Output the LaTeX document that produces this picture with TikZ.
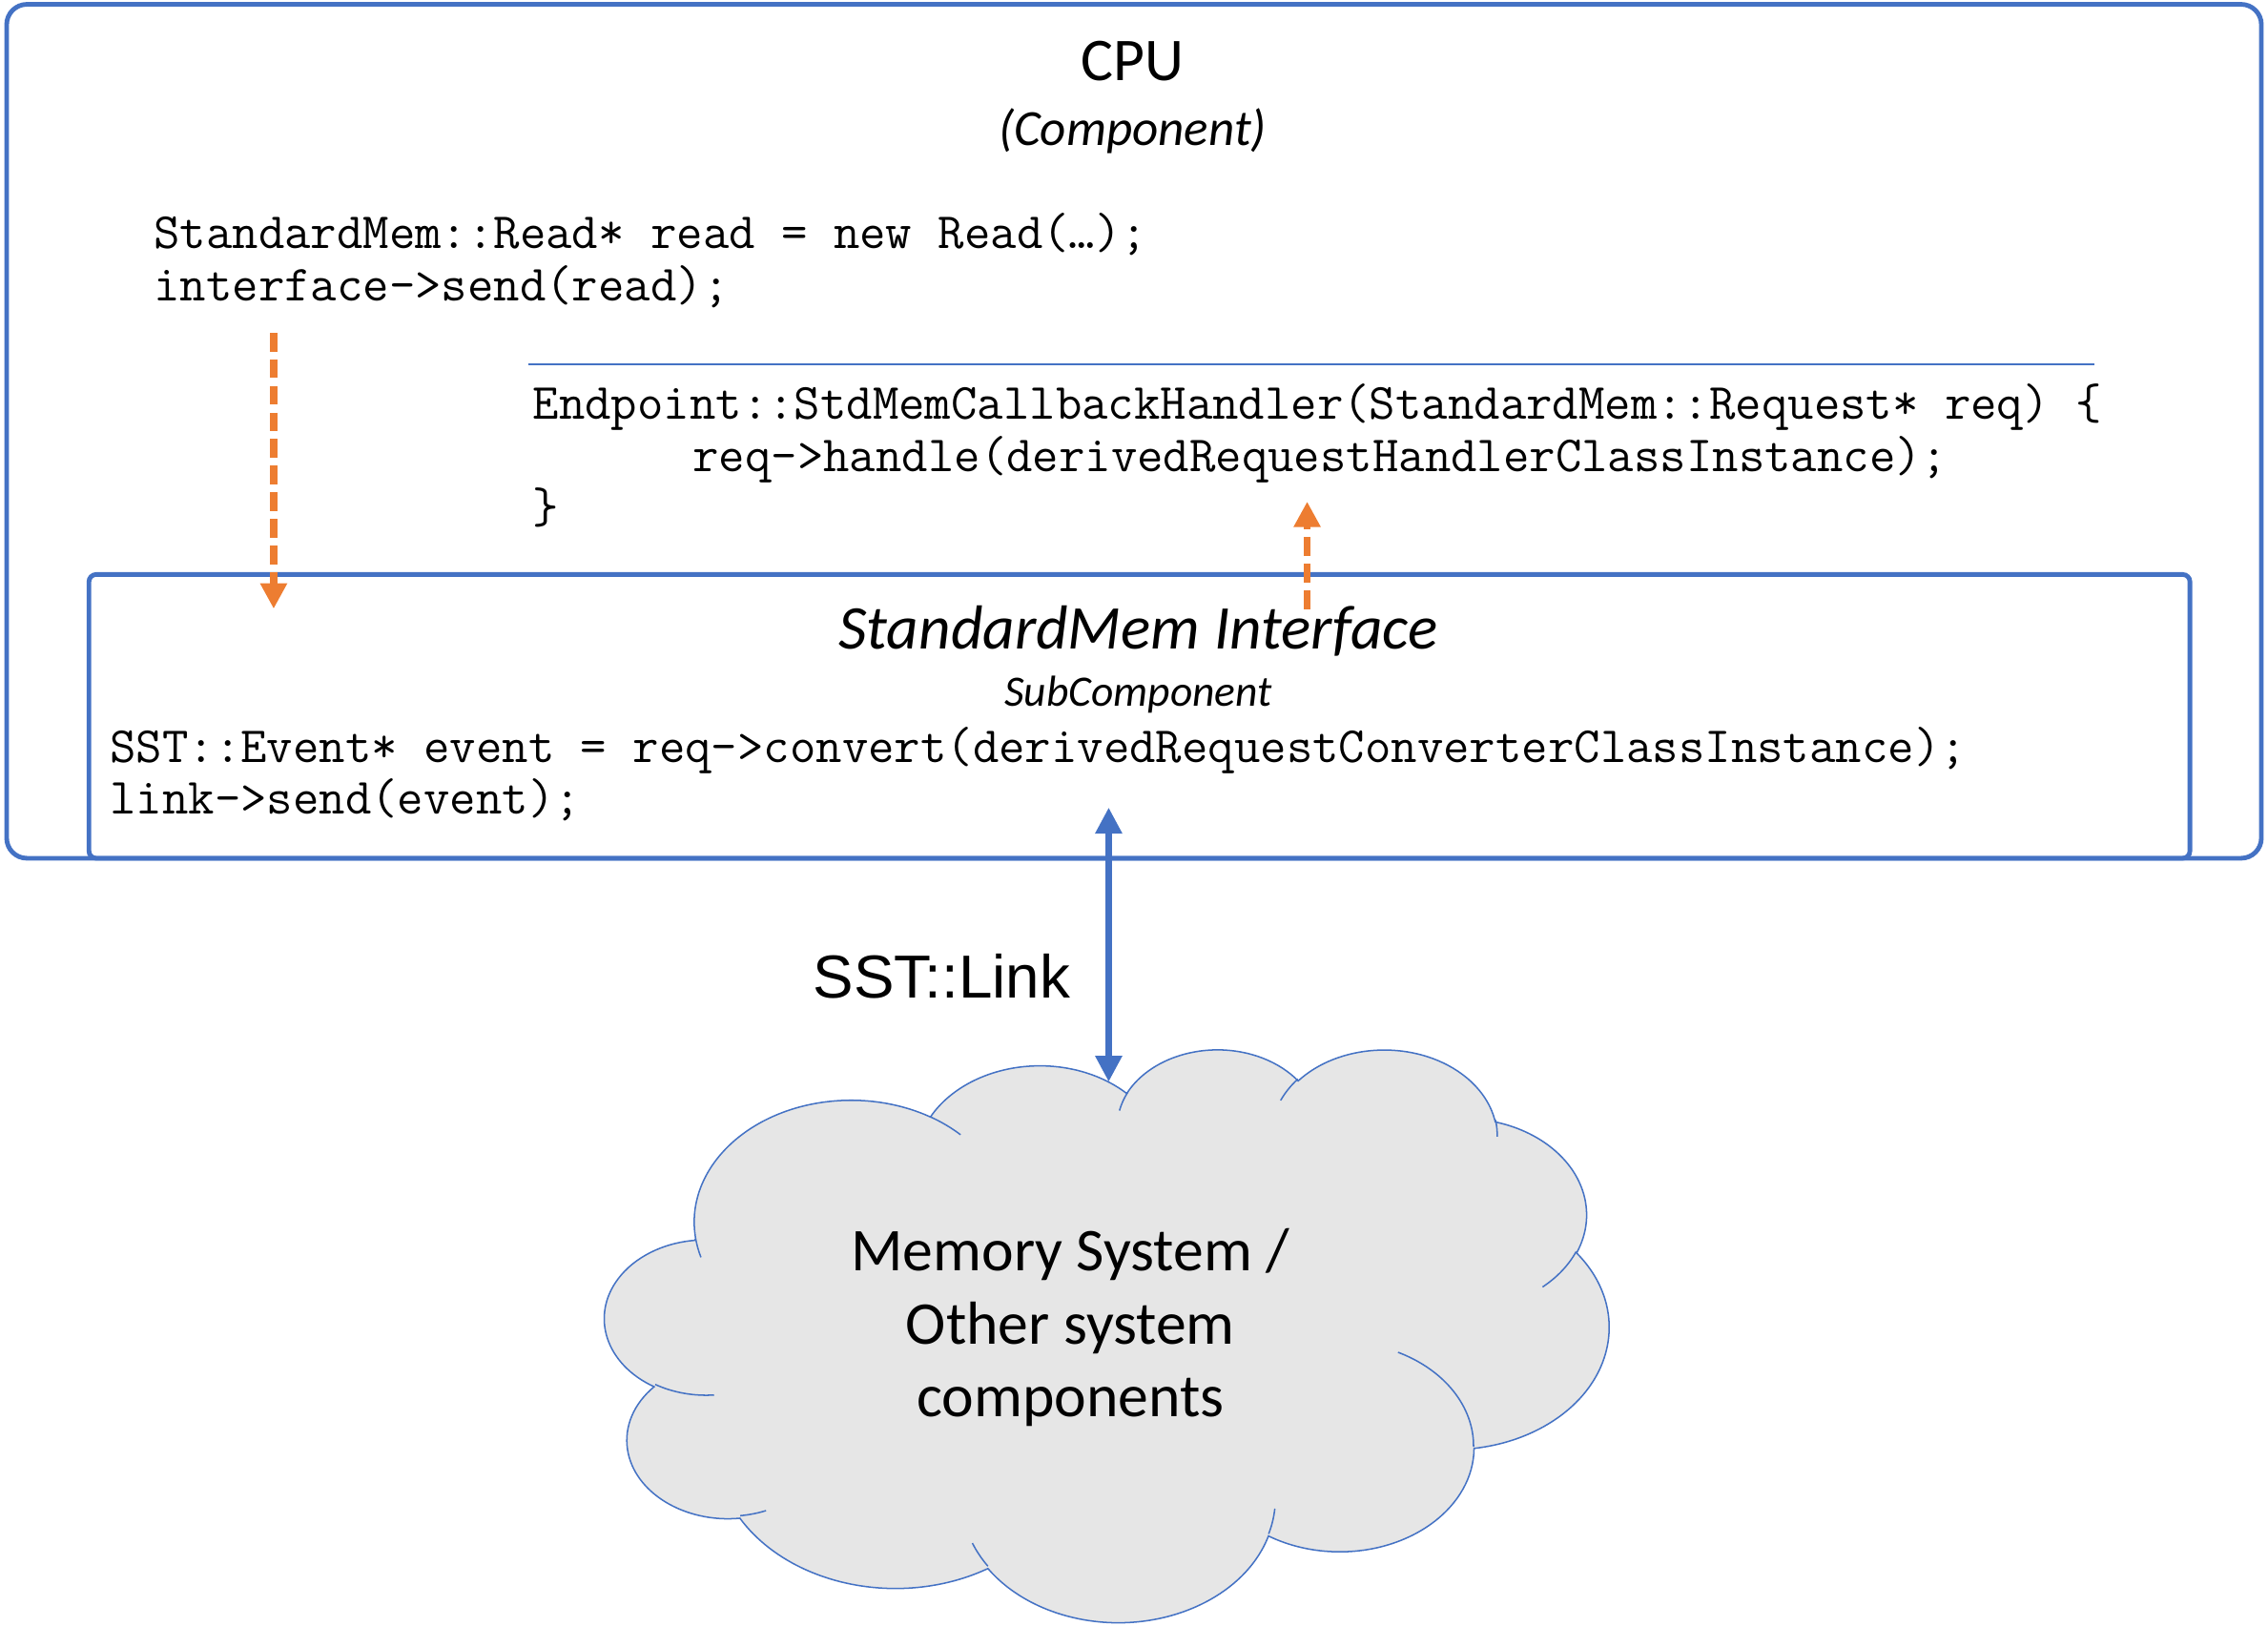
\documentclass[tikz,border=0pt]{standalone}
\usepackage{fontspec}
\setmainfont{Carlito}
\newfontfamily\linkfont{Liberation Sans}
\usepackage{tikz}
\usetikzlibrary{arrows.meta,positioning}
\definecolor{sstblue}{HTML}{4472C4}
\definecolor{sstorange}{HTML}{ED7D31}
\definecolor{cloudgray}{HTML}{E6E6E6}
\newcommand{\codefont}{\ttfamily\fontsize{17.55pt}{18pt}\selectfont}

\begin{document}
\begin{tikzpicture}[x=0.5pt,y=-0.5pt,
		boxline/.style={draw=sstblue,line width=1.6pt,inner sep=0pt},
		code/.style={font=\codefont,anchor=base west,inner sep=0pt},
		heading/.style={anchor=base,inner sep=0pt},
		callflow/.style={draw=sstorange,line width=2.4pt,dash pattern=on 6.5pt off 2.7pt,-{Triangle[width=8.8pt,length=8.8pt]}},
		linkarrow/.style={draw=sstblue,line width=2.2pt,{Triangle[width=8.8pt,length=9pt]}-{Triangle[width=8.8pt,length=9pt]}},
		cloudline/.style={draw=sstblue,line width=0.5pt}]
	\useasboundingbox (0,0) rectangle (1568,1124.2);
	% component and subcomponent
	\node[boxline,rounded corners=7pt,minimum width=779.4pt,minimum height=295.2pt] (cpu) at (784,298.2) {};
	\node[boxline,rounded corners=2.5pt,minimum width=726.25pt,minimum height=98.1pt] (ifc) at (787.75,495.3) {};
	\node[heading,font=\fontsize{21pt}{24pt}\selectfont] (cputitle) at (783,56) {CPU};
	\node[heading,font=\itshape\fontsize{17.5pt}{20pt}\selectfont] (cpusub) at (783,100.5) {(Component)};
	\node[heading,font=\itshape\fontsize{21.5pt}{24pt}\selectfont] (ifctitle) at (787,448.8) {StandardMem Interface};
	\node[heading,font=\itshape\fontsize{15pt}{18pt}\selectfont] (ifcsub) at (787,488) {SubComponent};
	% code
	\node[code] (rd1) at (106,171.8) {StandardMem::Read* read = new Read(…);};
	\node[code,below=18pt of rd1.base west,anchor=base west] (rd2) {interface->send(read);};
	\draw[sstblue,line width=0.6pt] (365,252.1) -- (1448,252.1);
	\node[code] (cb1) at (368,289.8) {Endpoint::StdMemCallbackHandler(StandardMem::Request* req) \{};
	\node[code,below right=18pt and 55.3pt of cb1.base west,anchor=base west] (cb2) {req->handle(derivedRequestHandlerClassInstance);};
	\node[code,below=36pt of cb1.base west,anchor=base west] (cb3) {\}};
	\node[code] (cv1) at (75.7,527) {SST::Event* event = req->convert(derivedRequestConverterClassInstance);};
	\node[code,below=18pt of cv1.base west,anchor=base west] (cv2) {link->send(event);};
	% cloud
	\begin{scope}[shift={(418.3,724.6)},xscale=1.6063,yscale=0.9165]
		\draw[cloudline,fill=cloudgray] (39.00,143.70)
			arc[start angle=172.26,end angle=300.36,x radius=67.53,y radius=91.90]
			arc[start angle=-152.03,end angle=-45.46,x radius=53.33,y radius=72.67]
			arc[start angle=-153.49,end angle=-37.31,x radius=43.65,y radius=59.45]
			arc[start angle=-139.70,end angle=-10.21,x radius=48.57,y radius=65.95]
			arc[start angle=-74.77,end angle=23.21,x radius=53.33,y radius=72.73]
			arc[start angle=-37.52,end angle=81.86,x radius=67.75,y radius=92.20]
			arc[start angle=0.46,end angle=121.99,x radius=57.85,y radius=78.67]
			arc[start angle=16.84,end angle=146.22,x radius=67.52,y radius=92.15]
			arc[start angle=58.99,end angle=150.18,x radius=77.20,y radius=105.43]
			arc[start angle=83.31,end angle=223.10,x radius=43.60,y radius=59.18]
			arc[start angle=120.36,end angle=264.12,x radius=43.45,y radius=59.45]
			-- cycle;
		% folds
		\draw[cloudline] (46.93,261.77) arc[start angle=85.55,end angle=120.36,x radius=43.45,y radius=59.45];
		\draw[cloudline] (69.28,348.99) arc[start angle=68.24,end angle=83.31,x radius=43.60,y radius=59.18];
		\draw[cloudline] (164.78,390.90) arc[start angle=146.22,end angle=158.48,x radius=67.52,y radius=92.15];
		\draw[cloudline] (288.27,347.51) arc[start angle=4.74,end angle=16.84,x radius=67.52,y radius=92.15];
		\draw[cloudline] (341.29,229.54) arc[start angle=-64.03,end angle=0.46,x radius=57.85,y radius=78.67];
		\draw[cloudline] (417.98,153.54) arc[start angle=23.21,end angle=49.64,x radius=53.33,y radius=72.73];
		\draw[cloudline] (383.24,54.26) arc[start angle=-10.21,end angle=0.82,x radius=48.57,y radius=65.95];
		\draw[cloudline] (290.78,39.52) arc[start angle=-156.29,end angle=-139.70,x radius=48.57,y radius=65.95];
		\draw[cloudline] (221.41,47.20) arc[start angle=-167.73,end angle=-153.49,x radius=43.65,y radius=59.45];
		\draw[cloudline] (140.00,51.92) arc[start angle=-59.64,end angle=-45.74,x radius=67.53,y radius=91.90];
		\draw[cloudline] (41.27,157.89) arc[start angle=163.19,end angle=172.26,x radius=67.53,y radius=91.90];
	\end{scope}
	\node[align=center,font=\fontsize{21pt}{25.25pt}\selectfont,inner sep=0pt] (memsys) at (740,918) {Memory System /\\Other system\\components};
	% link
	\coordinate (linktop) at (766.5,558.3);
	\coordinate (linkbot) at (766.5,748);
	\draw[linkarrow] (linktop) -- (linkbot);
	\node[anchor=base west,inner sep=0pt,font=\linkfont\fontsize{21pt}{24pt}\selectfont] (sstlink) at (562,689.7) {SST::Link};
	% calls
	\coordinate (sendtop) at (189.2,230);
	\coordinate (sendbot) at (189.2,420.9);
	\coordinate (cbbot) at (903.7,421.3);
	\coordinate (cbtop) at (903.7,346.8);
	\draw[callflow] (sendtop) -- (sendbot);
	\draw[callflow] (cbbot) -- (cbtop);
\end{tikzpicture}
\end{document}
